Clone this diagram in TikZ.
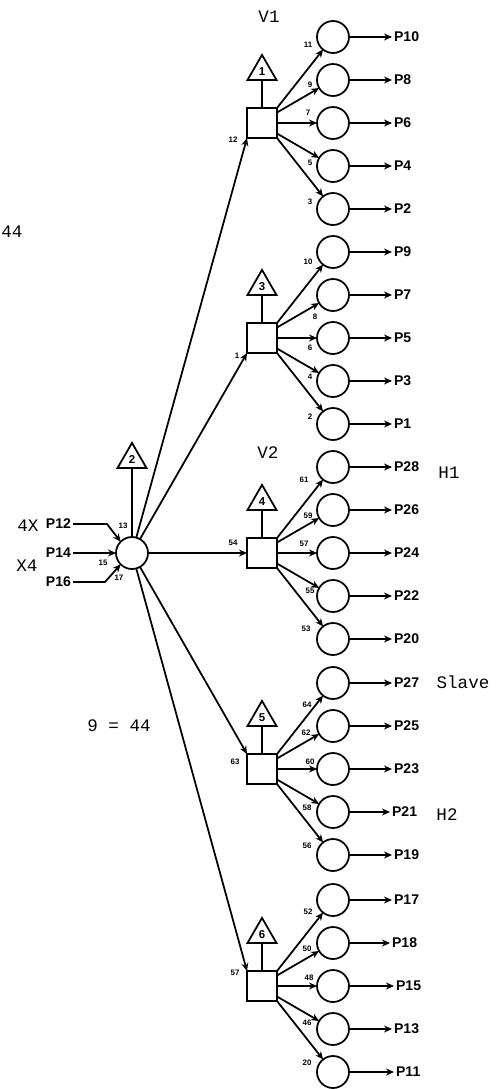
\documentclass[tikz,border=0pt]{standalone}
\usepackage{fontspec}
\setsansfont{Liberation Sans}
\setmonofont{Liberation Mono}
\usepackage{tikz}
\usetikzlibrary{shapes.geometric, arrows.meta, positioning}

\begin{document}
\begin{tikzpicture}[
		x=0.02cm, y=-0.02cm,
		ring/.style={draw, circle, line width=1pt, minimum size=0.64cm, inner sep=0pt, outer sep=0pt},
		sq/.style={draw, rectangle, line width=1pt, minimum size=0.6cm, inner sep=0pt, outer sep=0pt},
		tri/.style={draw, regular polygon, regular polygon sides=3, line width=1pt, minimum size=0.67cm, inner sep=0pt, outer sep=0pt, font=\sffamily\bfseries\fontsize{6.5}{7}\selectfont},
		plab/.style={font=\sffamily\bfseries\fontsize{8}{9}\selectfont, inner sep=1pt, anchor=west},
		num/.style={font=\sffamily\bfseries\fontsize{4.5}{5}\selectfont, inner sep=0pt},
		tag/.style={font=\ttfamily\fontsize{10}{12}\selectfont, inner sep=0pt},
		arr/.style={-{Stealth[length=1.6mm, width=1.4mm]}, line width=1pt},
		stem/.style={line width=1pt}
	]
		\useasboundingbox (0,0) rectangle (497,1089);

		% source node and its inputs
		\node[ring] (src) at (132,553) {};
		\node[tri, above=1.38cm of src] (t2) {2};
		\node[plab, anchor=east] (p12) at (73,524) {P12};
		\node[plab, anchor=east] (p14) at (73,553) {P14};
		\node[plab, anchor=east] (p16) at (73,582) {P16};
		\node[tag] (tx1) at (28,526) {4X};
		\node[tag] (tx2) at (27,566) {X4};
		\node[tag, anchor=west] (t44) at (1,232) {44};
		\node[tag] (teq) at (119,726) {9 = 44};

		\draw[stem] (t2) -- (src);
		\draw[arr] (p12.east) -- ++(34,0) -- (src.135) node[num] at (123,526) {13};
		\draw[arr] (p14) -- (src) node[num] at (103,563) {15};
		\draw[arr] (p16.east) -- ++(32,0) -- (src.225) node[num] at (119,578) {17};

		% branch boxes
		\node[sq] (b1) at (262,123) {};
		\node[sq] (b2) at (262,338) {};
		\node[sq] (b3) at (262,553) {};
		\node[sq] (b4) at (262,769) {};
		\node[sq] (b5) at (262,986) {};
		\node[tri, above=0.56cm of b1] (t1) {1};
		\node[tri, above=0.56cm of b2] (t3) {3};
		\node[tri, above=0.56cm of b3] (t4) {4};
		\node[tri, above=0.56cm of b4] (t5) {5};
		\node[tri, above=0.56cm of b5] (t6) {6};
		\draw[stem] (t1) -- (b1);
		\draw[stem] (t3) -- (b2);
		\draw[stem] (t4) -- (b3);
		\draw[stem] (t5) -- (b4);
		\draw[stem] (t6) -- (b5);

		\draw[arr] (src) -- (b1.south west) node[num] at (233,140) {12};
		\draw[arr] (src) -- (b2.south west) node[num] at (237,356) {1};
		\draw[arr] (src) -- (b3) node[num] at (233,543) {54};
		\draw[arr] (src) -- (b4.north west) node[num] at (235,762) {63};
		\draw[arr] (src) -- (b5.north west) node[num] at (235,973) {57};

		\node[tag] (v1) at (269,17) {V1};
		\node[tag] (v2) at (268,453) {V2};
		\node[tag] (h1) at (449,473) {H1};
		\node[tag] (slave) at (463,682) {Slave};
		\node[tag] (h2) at (447,815) {H2};

		% branch 1
		\node[ring] (c10) at (333,37) {};
		\node[ring] (c8) at (333,80) {};
		\node[ring] (c6) at (333,123) {};
		\node[ring] (c4) at (333,166) {};
		\node[ring] (c2) at (333,209) {};
		\node[plab] (p10) at (392,37) {P10};
		\node[plab] (p8) at (392,80) {P8};
		\node[plab] (p6) at (392,123) {P6};
		\node[plab] (p4) at (392,166) {P4};
		\node[plab] (p2) at (392,209) {P2};
		\draw[arr] (b1.north east) -- (c10) node[num] at (308,45) {11};
		\draw[arr] (b1.35) -- (c8) node[num] at (310,85) {9};
		\draw[arr] (b1.east) -- (c6) node[num] at (308,113) {7};
		\draw[arr] (b1.-35) -- (c4) node[num] at (310,163) {5};
		\draw[arr] (b1.south east) -- (c2) node[num] at (310,202) {3};
		\draw[arr] (c10) -- (p10);
		\draw[arr] (c8) -- (p8);
		\draw[arr] (c6) -- (p6);
		\draw[arr] (c4) -- (p4);
		\draw[arr] (c2) -- (p2);

		% branch 2
		\node[ring] (c9) at (333,252) {};
		\node[ring] (c7) at (333,295) {};
		\node[ring] (c5) at (333,338) {};
		\node[ring] (c3) at (333,381) {};
		\node[ring] (c1) at (333,424) {};
		\node[plab] (p9) at (392,252) {P9};
		\node[plab] (p7) at (392,295) {P7};
		\node[plab] (p5) at (392,338) {P5};
		\node[plab] (p3) at (392,381) {P3};
		\node[plab] (p1) at (392,424) {P1};
		\draw[arr] (b2.north east) -- (c9) node[num] at (308,262) {10};
		\draw[arr] (b2.35) -- (c7) node[num] at (315,317) {8};
		\draw[arr] (b2.east) -- (c5) node[num] at (310,348) {6};
		\draw[arr] (b2.-35) -- (c3) node[num] at (310,377) {4};
		\draw[arr] (b2.south east) -- (c1) node[num] at (310,417) {2};
		\draw[arr] (c9) -- (p9);
		\draw[arr] (c7) -- (p7);
		\draw[arr] (c5) -- (p5);
		\draw[arr] (c3) -- (p3);
		\draw[arr] (c1) -- (p1);

		% branch 3
		\node[ring] (c28) at (333,467) {};
		\node[ring] (c26) at (333,510) {};
		\node[ring] (c24) at (333,553) {};
		\node[ring] (c22) at (333,596) {};
		\node[ring] (c20) at (333,639) {};
		\node[plab] (p28) at (392,467) {P28};
		\node[plab] (p26) at (392,510) {P26};
		\node[plab] (p24) at (392,553) {P24};
		\node[plab] (p22) at (392,596) {P22};
		\node[plab] (p20) at (392,639) {P20};
		\draw[arr] (b3.north east) -- (c28) node[num] at (304,480) {61};
		\draw[arr] (b3.35) -- (c26) node[num] at (308,516) {59};
		\draw[arr] (b3.east) -- (c24) node[num] at (304,544) {57};
		\draw[arr] (b3.-35) -- (c22) node[num] at (310,591) {55};
		\draw[arr] (b3.south east) -- (c20) node[num] at (306,629) {53};
		\draw[arr] (c28) -- (p28);
		\draw[arr] (c26) -- (p26);
		\draw[arr] (c24) -- (p24);
		\draw[arr] (c22) -- (p22);
		\draw[arr] (c20) -- (p20);

		% branch 4
		\node[ring] (c27) at (333,683) {};
		\node[ring] (c25) at (333,726) {};
		\node[ring] (c23) at (333,769) {};
		\node[ring] (c21) at (333,812) {};
		\node[ring] (c19) at (333,855) {};
		\node[plab] (p27) at (392,683) {P27};
		\node[plab] (p25) at (392,726) {P25};
		\node[plab] (p23) at (392,769) {P23};
		\node[plab] (p21) at (390,812) {P21};
		\node[plab] (p19) at (392,855) {P19};
		\draw[arr] (b4.north east) -- (c27) node[num] at (307,705) {64};
		\draw[arr] (b4.35) -- (c25) node[num] at (306,733) {62};
		\draw[arr] (b4.east) -- (c23) node[num] at (310,762) {60};
		\draw[arr] (b4.-35) -- (c21) node[num] at (307,808) {58};
		\draw[arr] (b4.south east) -- (c19) node[num] at (307,846) {56};
		\draw[arr] (c27) -- (p27);
		\draw[arr] (c25) -- (p25);
		\draw[arr] (c23) -- (p23);
		\draw[arr] (c21) -- (p21);
		\draw[arr] (c19) -- (p19);

		% branch 5
		\node[ring] (c17) at (333,900) {};
		\node[ring] (c18) at (333,943) {};
		\node[ring] (c15) at (333,986) {};
		\node[ring] (c13) at (333,1029) {};
		\node[ring] (c11) at (333,1072) {};
		\node[plab] (p17) at (392,900) {P17};
		\node[plab] (p18) at (390,943) {P18};
		\node[plab] (p15) at (394,986) {P15};
		\node[plab] (p13) at (392,1029) {P13};
		\node[plab] (p11) at (394,1072) {P11};
		\draw[arr] (b5.north east) -- (c17) node[num] at (308,912) {52};
		\draw[arr] (b5.35) -- (c18) node[num] at (307,949) {50};
		\draw[arr] (b5.east) -- (c15) node[num] at (309,978) {48};
		\draw[arr] (b5.-35) -- (c13) node[num] at (307,1023) {46};
		\draw[arr] (b5.south east) -- (c11) node[num] at (307,1063) {20};
		\draw[arr] (c17) -- (p17);
		\draw[arr] (c18) -- (p18);
		\draw[arr] (c15) -- (p15);
		\draw[arr] (c13) -- (p13);
		\draw[arr] (c11) -- (p11);
	\end{tikzpicture}
\end{document}
